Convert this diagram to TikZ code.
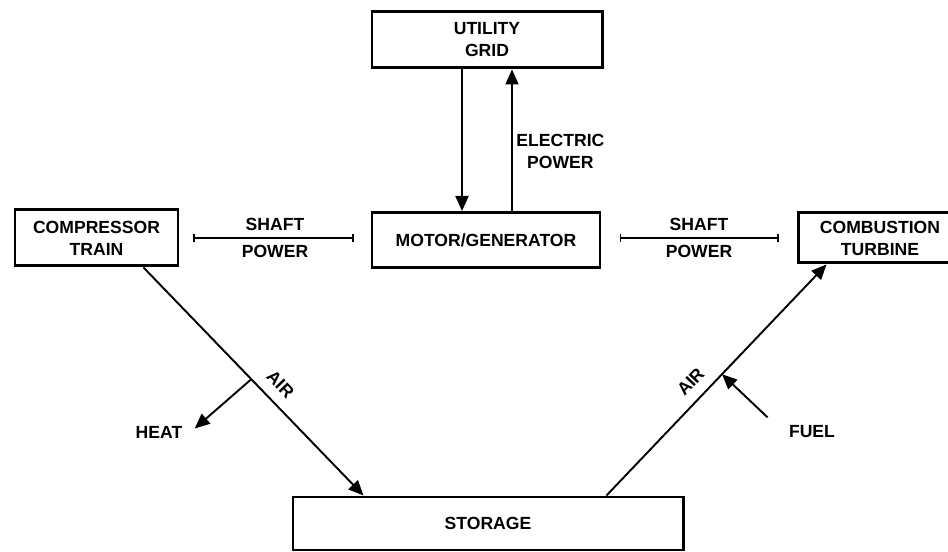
\documentclass[tikz,border=0pt]{standalone}
\usepackage{fontspec}
\setmainfont{Liberation Sans}
\usetikzlibrary{arrows.meta, positioning, calc}
\tikzset{
  every picture/.style={font=\bfseries\fontsize{10}{12.5}\selectfont, line width=1.1pt},
  box/.style={draw, line width=1.7pt, align=center, inner sep=2pt},
  flow/.style={-{Triangle[length=3mm, width=2.6mm]}, line width=1.1pt},
  shaft/.style={{Bar[width=1.6mm]}-{Bar[width=1.6mm]}, line width=0.7pt},
  label/.style={align=center, inner sep=2pt},
}

\begin{document}
\begin{tikzpicture}
  \useasboundingbox (0,0) rectangle (18.96,-11.04);
  % blocks
  \node[box, minimum width=4.6cm, minimum height=1.12cm] (grid) at (9.74,-0.80) {UTILITY\\GRID};
  \node[box, minimum width=4.56cm, minimum height=1.1cm] (motor) at (9.72,-4.80) {MOTOR/GENERATOR};
  \node[box, minimum width=3.26cm, minimum height=1.12cm] (comp) at (1.93,-4.76) {COMPRESSOR\\TRAIN};
  \node[box, minimum width=3.28cm, minimum height=1.0cm] (turb) at (17.6,-4.76) {COMBUSTION\\TURBINE};
  \node[box, minimum width=7.8cm, minimum height=1.06cm] (store) at (9.76,-10.47) {STORAGE};
  \node[label] (heat) at (3.18,-8.64) {HEAT};
  \node[label] (fuel) at (16.24,-8.64) {FUEL};

  % electric power
  \draw[flow] ([xshift=-0.5cm]grid.south) -- ([xshift=-0.5cm]grid.south |- motor.north);
  \draw[flow] ([xshift=0.5cm]grid.south |- motor.north) -- node[label, right, pos=0.42] {ELECTRIC\\POWER} ([xshift=0.5cm]grid.south);

  % shaft power
  \draw[shaft, shorten <=0.28cm, shorten >=0.34cm] (comp.east) -- node[label, above=2pt] {SHAFT} node[label, below=2pt] {POWER} (comp.east -| motor.west);
  \draw[shaft, shorten <=0.36cm, shorten >=0.36cm] (comp.east -| motor.east) -- node[label, above=2pt] {SHAFT} node[label, below=2pt] {POWER} (comp.east -| turb.west);

  % air
  \draw[flow] ([xshift=-0.72cm]comp.south east) -- coordinate[pos=0.49] (hsplit) node[label, sloped, above=4pt, pos=0.565] {AIR} ([xshift=1.44cm]store.north west);
  \draw[flow] ([xshift=-1.56cm]store.north east) -- coordinate[pos=0.525] (fsplit) node[label, sloped, above=4pt, pos=0.44] {AIR} ([xshift=0.6cm]turb.south west);
  \draw[flow] (hsplit) -- ([xshift=0.16cm, yshift=-0.14cm]heat.north east);
  \draw[flow] ([xshift=-0.34cm, yshift=0.08cm]fuel.north west) -- (fsplit);
\end{tikzpicture}
\end{document}
